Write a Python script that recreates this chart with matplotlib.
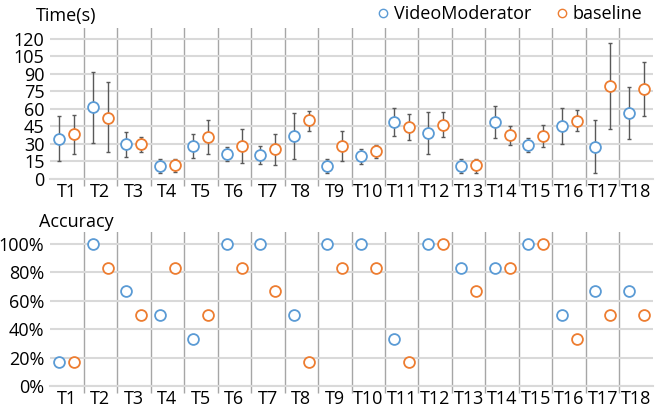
import numpy as np
import matplotlib
matplotlib.use("Agg")
import matplotlib.pyplot as plt
from matplotlib.lines import Line2D
from matplotlib.ticker import PercentFormatter

plt.rcParams['font.family'] = ['Open Sans', 'DejaVu Sans']

# --- Data ---
tasks = [f"T{i}" for i in range(1, 19)]

# Time (s): mean, lower and upper ends of the error bars
vm_time = [34.5, 61.4, 29.9, 11.2, 28.4, 21.8, 20.7, 37.0, 11.5,
           19.5, 49.1, 39.3, 10.9, 48.5, 29.3, 45.4, 27.8, 56.6]
vm_low = [15.5, 30.7, 19.0, 5.5, 18.0, 15.5, 12.9, 16.7, 5.5,
          12.9, 37.0, 21.2, 5.2, 35.3, 23.5, 30.1, 5.2, 34.5]
vm_high = [54.0, 92.0, 40.0, 17.0, 38.8, 27.6, 28.1, 56.8, 17.0,
           25.3, 61.2, 57.7, 16.7, 62.3, 35.0, 60.6, 50.5, 79.0]

bl_time = [38.5, 52.5, 29.9, 11.8, 36.2, 28.1, 25.6, 50.2, 28.1,
           23.8, 44.5, 46.5, 11.8, 37.3, 37.0, 50.0, 79.5, 77.5]
bl_low = [21.5, 23.5, 23.5, 6.3, 21.8, 13.8, 12.3, 40.8, 15.5,
          18.0, 33.0, 35.9, 5.5, 28.7, 27.8, 41.3, 42.5, 54.3]
bl_high = [55.0, 82.7, 35.6, 17.5, 50.5, 42.8, 38.8, 58.6, 40.8,
           29.3, 56.0, 57.7, 17.5, 45.4, 46.5, 58.9, 116.9, 100.5]

# Accuracy (fraction of participants, out of 6)
vm_acc = [1/6, 1, 4/6, 3/6, 2/6, 1, 1, 3/6, 1,
          1, 2/6, 1, 5/6, 5/6, 1, 3/6, 4/6, 4/6]
bl_acc = [1/6, 5/6, 3/6, 5/6, 3/6, 5/6, 4/6, 1/6, 5/6,
          5/6, 1/6, 1, 4/6, 5/6, 1, 2/6, 3/6, 3/6]

BLUE = '#5B9BD5'
ORANGE = '#ED7D31'
GRID = '#d9d9d9'
SEP = '#a6a6a6'
FS = 13

x = np.arange(1, len(tasks) + 1)
off = 0.22
mk = dict(marker='o', linestyle='none', markersize=7.8,
          markerfacecolor='white', markeredgewidth=1.3, zorder=4)


def style_axes(ax):
    ax.set_xlim(0.5, len(tasks) + 0.5)
    ax.set_xticks(x)
    ax.set_xticklabels(tasks, fontsize=FS)
    ax.set_xticks(np.arange(1.5, len(tasks), 1), minor=True)
    ax.tick_params(axis='x', which='major', length=0, pad=3)
    ax.tick_params(axis='x', which='minor', length=5, color=SEP, width=1)
    ax.tick_params(axis='y', length=0, pad=4, labelsize=FS)
    for b in np.arange(1.5, len(tasks), 1):
        ax.axvline(b, color=SEP, lw=1, zorder=1)
    ax.grid(axis='y', color=GRID, lw=1.5, zorder=0)
    for s in ['top', 'right', 'left']:
        ax.spines[s].set_visible(False)
    ax.spines['bottom'].set_color(GRID)
    ax.spines['bottom'].set_linewidth(1.5)


fig = plt.figure(figsize=(6.68, 4.11), dpi=100)
ax1 = fig.add_axes([0.0749, 0.5645, 0.9026, 0.3675])
ax2 = fig.add_axes([0.0749, 0.0608, 0.9026, 0.3747])

# --- Time ---
for xs, m, lo, hi, c in [(x - off, vm_time, vm_low, vm_high, BLUE),
                         (x + off, bl_time, bl_low, bl_high, ORANGE)]:
    m = np.array(m)
    yerr = [m - np.array(lo), np.array(hi) - m]
    ax1.errorbar(xs, m, yerr=yerr, fmt='none', ecolor='#595959',
                 elinewidth=1, capsize=1.6, capthick=1, zorder=3)
    ax1.plot(xs, m, markeredgecolor=c, **mk)
ax1.set_ylim(0, 129.4)
ax1.set_yticks(np.arange(0, 121, 15))
style_axes(ax1)
fig.text(0.053, 0.962, "Time(s)", fontsize=FS, va='center', ha='left')

# --- Accuracy ---
ax2.plot(x - off, vm_acc, markeredgecolor=BLUE, **mk)
ax2.plot(x + off, bl_acc, markeredgecolor=ORANGE, **mk)
ax2.set_ylim(0, 1.085)
ax2.set_yticks(np.arange(0, 1.01, 0.2))
ax2.yaxis.set_major_formatter(PercentFormatter(1.0, decimals=0))
style_axes(ax2)
fig.text(0.058, 0.46, "Accuracy", fontsize=FS, va='center', ha='left')

# --- Legend ---
lg = dict(marker='o', linestyle='none', markersize=6,
          markerfacecolor='white', markeredgewidth=1.0)
handles = [Line2D([], [], markeredgecolor=BLUE, **lg),
           Line2D([], [], markeredgecolor=ORANGE, **lg)]
fig.legend(handles, ["VideoModerator", "baseline"], loc='center right',
           bbox_to_anchor=(0.975, 0.966), ncol=2, frameon=False,
           fontsize=FS, handlelength=0.6, handletextpad=0.3,
           columnspacing=1.4, borderpad=0)

fig.savefig("out.png", dpi=100)
